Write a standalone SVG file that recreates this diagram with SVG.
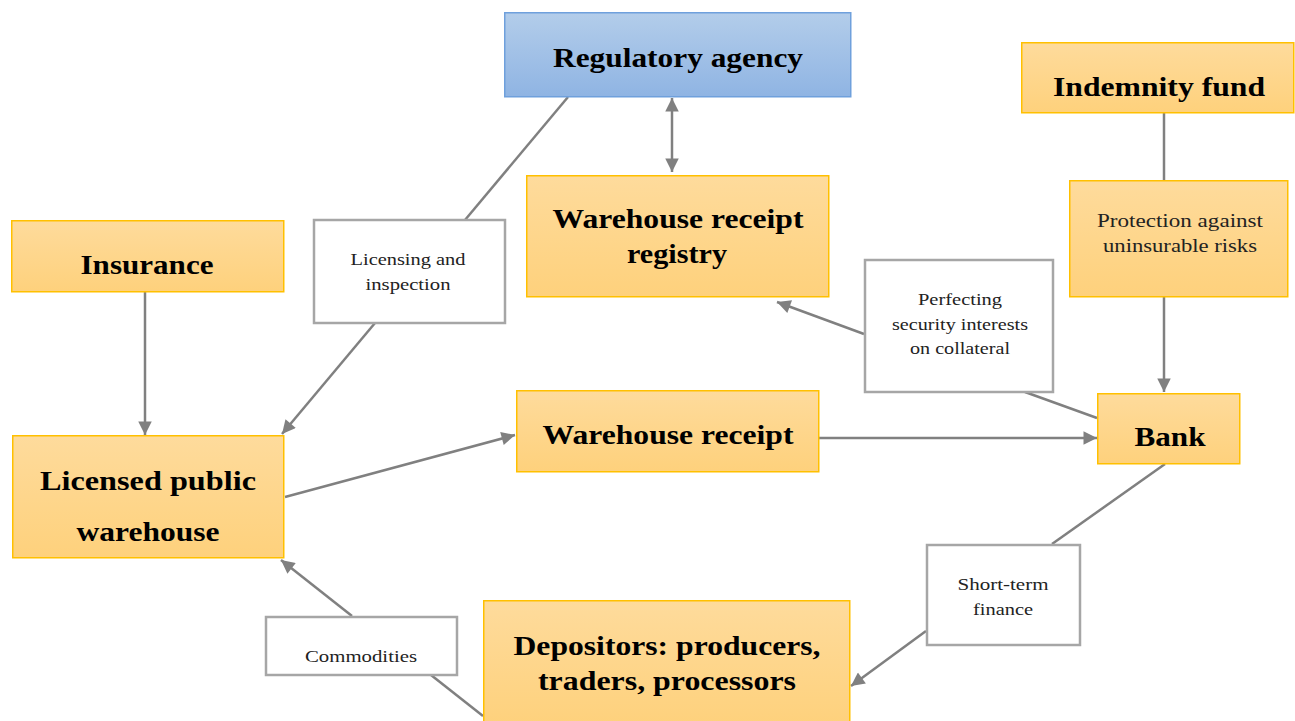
<svg xmlns="http://www.w3.org/2000/svg" width="1295" height="721" viewBox="0 0 1295 721">
<defs>
<linearGradient id="gOr" x1="0" y1="0" x2="0" y2="1"><stop offset="0" stop-color="#fedb9c"/><stop offset="1" stop-color="#fed17c"/></linearGradient>
<linearGradient id="gBl" x1="0" y1="0" x2="0" y2="1"><stop offset="0" stop-color="#b3cdea"/><stop offset="1" stop-color="#8fb4e3"/></linearGradient>
<marker id="ar" viewBox="0 0 10 10" refX="10" refY="5" markerWidth="6" markerHeight="5.4" orient="auto-start-reverse" markerUnits="strokeWidth"><path d="M0,0L10,5L0,10z" fill="#808080"/></marker>
<style>
.or{fill:url(#gOr);stroke:#ffc000;stroke-width:1.5}
.bl{fill:url(#gBl);stroke:#6fa0dc;stroke-width:1.5}
.lb{fill:#fff;stroke:#a6a6a6;stroke-width:2.5}
.c{fill:none;stroke:#808080;stroke-width:2.5}
.t{font-family:"Liberation Serif",serif;font-weight:bold;fill:#000;text-anchor:middle}
.s{font-family:"Liberation Serif",serif;fill:#222;text-anchor:middle}
</style>
</defs>
<g id="connectors">
<line class="c" x1="568" y1="97" x2="465" y2="220"/>
<line class="c" x1="375" y1="323" x2="282" y2="434" marker-end="url(#ar)"/>
<line class="c" x1="672" y1="98" x2="672" y2="172" marker-start="url(#ar)" marker-end="url(#ar)"/>
<line class="c" x1="145" y1="292" x2="145" y2="435" marker-end="url(#ar)"/>
<line class="c" x1="285" y1="497" x2="515" y2="435" marker-end="url(#ar)"/>
<line class="c" x1="819" y1="438" x2="1097" y2="438" marker-end="url(#ar)"/>
<line class="c" x1="1164" y1="113" x2="1164" y2="180"/>
<line class="c" x1="1164" y1="297" x2="1164" y2="392" marker-end="url(#ar)"/>
<line class="c" x1="1097" y1="418" x2="1025" y2="392"/>
<line class="c" x1="864" y1="334" x2="777" y2="302" marker-end="url(#ar)"/>
<line class="c" x1="1165" y1="464" x2="1052" y2="544"/>
<line class="c" x1="926" y1="631" x2="851" y2="686" marker-end="url(#ar)"/>
<line class="c" x1="483" y1="716" x2="431" y2="675"/>
<line class="c" x1="352" y1="616" x2="281" y2="560" marker-end="url(#ar)"/>
</g>
<g id="regulatory-agency">
<rect class="bl" x="504.75" y="12.75" width="346" height="84"/>
<text class="t" x="678" y="67" font-size="28" textLength="250" lengthAdjust="spacingAndGlyphs">Regulatory agency</text>
</g>
<g id="warehouse-receipt-registry">
<rect class="or" x="526.75" y="175.75" width="302" height="121"/>
<text class="t" x="678" y="228" font-size="28" textLength="251" lengthAdjust="spacingAndGlyphs">Warehouse receipt</text>
<text class="t" x="677" y="263" font-size="28" textLength="100" lengthAdjust="spacingAndGlyphs">registry</text>
</g>
<g id="insurance">
<rect class="or" x="11.75" y="220.75" width="272" height="71"/>
<text class="t" x="147" y="274" font-size="28" textLength="133" lengthAdjust="spacingAndGlyphs">Insurance</text>
</g>
<g id="licensed-public-warehouse">
<rect class="or" x="12.75" y="435.75" width="271" height="122"/>
<text class="t" x="148" y="490" font-size="28" textLength="216" lengthAdjust="spacingAndGlyphs">Licensed public</text>
<text class="t" x="148" y="541" font-size="28" textLength="143" lengthAdjust="spacingAndGlyphs">warehouse</text>
</g>
<g id="warehouse-receipt">
<rect class="or" x="516.75" y="390.75" width="302" height="81"/>
<text class="t" x="668" y="444" font-size="28" textLength="251" lengthAdjust="spacingAndGlyphs">Warehouse receipt</text>
</g>
<g id="indemnity-fund">
<rect class="or" x="1021.75" y="42.75" width="272" height="70"/>
<text class="t" x="1159" y="96" font-size="28" textLength="212" lengthAdjust="spacingAndGlyphs">Indemnity fund</text>
</g>
<g id="protection">
<rect class="or" x="1069.75" y="180.75" width="218" height="116"/>
<text class="s" x="1180" y="227" font-size="19" textLength="166" lengthAdjust="spacingAndGlyphs">Protection against</text>
<text class="s" x="1180" y="252" font-size="19" textLength="154" lengthAdjust="spacingAndGlyphs">uninsurable risks</text>
</g>
<g id="bank">
<rect class="or" x="1097.75" y="393.75" width="142" height="70"/>
<text class="t" x="1170" y="446" font-size="28" textLength="71" lengthAdjust="spacingAndGlyphs">Bank</text>
</g>
<g id="depositors">
<rect class="or" x="483.75" y="600.75" width="366" height="125"/>
<text class="t" x="667" y="655" font-size="28" textLength="307" lengthAdjust="spacingAndGlyphs">Depositors: producers,</text>
<text class="t" x="667" y="690" font-size="28" textLength="258" lengthAdjust="spacingAndGlyphs">traders, processors</text>
</g>
<g id="label-licensing">
<rect class="lb" x="314" y="220" width="191" height="103"/>
<text class="s" x="408" y="265" font-size="17" textLength="115" lengthAdjust="spacingAndGlyphs">Licensing and</text>
<text class="s" x="408" y="290" font-size="17" textLength="85" lengthAdjust="spacingAndGlyphs">inspection</text>
</g>
<g id="label-perfecting">
<rect class="lb" x="865" y="260" width="188" height="132"/>
<text class="s" x="960" y="305" font-size="17" textLength="84" lengthAdjust="spacingAndGlyphs">Perfecting</text>
<text class="s" x="960" y="330" font-size="17" textLength="136" lengthAdjust="spacingAndGlyphs">security interests</text>
<text class="s" x="960" y="354" font-size="17" textLength="100" lengthAdjust="spacingAndGlyphs">on collateral</text>
</g>
<g id="label-short-term">
<rect class="lb" x="927" y="545" width="153" height="100"/>
<text class="s" x="1003" y="590" font-size="17" textLength="91" lengthAdjust="spacingAndGlyphs">Short-term</text>
<text class="s" x="1003" y="615" font-size="17" textLength="60" lengthAdjust="spacingAndGlyphs">finance</text>
</g>
<g id="label-commodities">
<rect class="lb" x="266" y="617" width="191" height="58"/>
<text class="s" x="361" y="662" font-size="17" textLength="112" lengthAdjust="spacingAndGlyphs">Commodities</text>
</g>
</svg>
